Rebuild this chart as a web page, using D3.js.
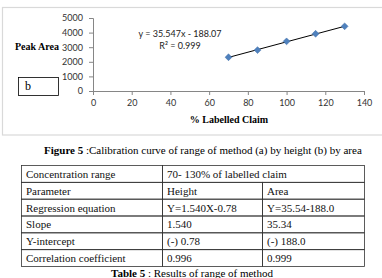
<!DOCTYPE html>
<html>
<head>
<meta charset="utf-8">
<script src="https://cdn.jsdelivr.net/npm/d3@7"></script>
<style>
  body { margin: 0; background: #fff; }
  svg { display: block; }
</style>
</head>
<body>
<svg id="chart" width="382" height="278"></svg>
<script>
// data
var claim = [70, 85, 100, 115, 130];
var peakArea = [2310, 2800, 3400, 3920, 4430];
var slope = 35.547, intercept = -188.07;
var eqText = "y = 35.547x - 188.07";
var r2Text = "R² = 0.999";
var xTicks = [0, 20, 40, 60, 80, 100, 120, 140];
var yTicks = [0, 1000, 2000, 3000, 4000, 5000];

var tableRows = [
    ["Concentration range", "70- 130% of labelled claim"],
    ["Parameter", "Height", "Area"],
    ["Regression equation", "Y=1.540X-0.78", "Y=35.54-188.0"],
    ["Slope", "1.540", "35.34"],
    ["Y-intercept", "(-) 0.78", "(-) 188.0"],
    ["Correlation coefficient", "0.996", "0.999"]
];

var svg = d3.select("#chart");
var serif = "'Liberation Serif', 'Times New Roman', serif";
var sans = "Lato, 'Open Sans', sans-serif";

// chart frame
svg.append("rect")
    .attr("x", 2.5).attr("y", 7.5)
    .attr("width", 390).attr("height", 127.5)
    .attr("fill", "none")
    .attr("stroke", "#d9d9d9")
    .attr("stroke-width", 1.2);

var x = d3.scaleLinear().domain([0, 140]).range([93, 364]);
var y = d3.scaleLinear().domain([0, 5000]).range([91, 18]);

var xAxis = svg.append("g")
    .attr("transform", "translate(0," + y(0) + ")")
    .call(d3.axisBottom(x).tickValues(xTicks).tickSize(4).tickPadding(5));

var yAxis = svg.append("g")
    .attr("transform", "translate(" + x(0) + ",0)")
    .call(d3.axisLeft(y).tickValues(yTicks).tickFormat(d3.format("d")).tickSize(4).tickPadding(6));

[xAxis, yAxis].forEach(function(a) {
    a.select(".domain").attr("stroke", "#868686");
    a.selectAll(".tick line").attr("stroke", "#868686");
    a.selectAll(".tick text")
        .attr("fill", "#333")
        .style("font-family", sans)
        .style("font-size", "9px");
});

// trendline
svg.append("line")
    .attr("x1", x(claim[0]))
    .attr("y1", y(slope * claim[0] + intercept))
    .attr("x2", x(claim[claim.length - 1]))
    .attr("y2", y(slope * claim[claim.length - 1] + intercept))
    .attr("stroke", "#000")
    .attr("stroke-width", 1);

// markers
svg.selectAll("path.pt")
    .data(claim)
    .enter()
    .append("path")
    .attr("class", "pt")
    .attr("d", d3.symbol().type(d3.symbolDiamond2).size(30))
    .attr("transform", function(d, i) {
        return "translate(" + x(d) + "," + y(peakArea[i]) + ")";
    })
    .attr("fill", "#4f81bd")
    .attr("stroke", "#3c6ca8")
    .attr("stroke-width", 0.5);

// equation label
svg.append("text")
    .attr("x", 180).attr("y", 37)
    .attr("text-anchor", "middle")
    .style("font-family", sans).style("font-size", "9px")
    .attr("fill", "#222")
    .text(eqText);
svg.append("text")
    .attr("x", 180).attr("y", 49)
    .attr("text-anchor", "middle")
    .style("font-family", sans).style("font-size", "9px")
    .attr("fill", "#222")
    .text(r2Text);

// axis titles
svg.append("text")
    .attr("x", 37).attr("y", 50)
    .attr("text-anchor", "middle")
    .style("font-family", serif).style("font-size", "10px").style("font-weight", "bold")
    .text("Peak Area");
svg.append("text")
    .attr("x", 229).attr("y", 123)
    .attr("text-anchor", "middle")
    .style("font-family", serif).style("font-size", "10px").style("font-weight", "bold")
    .text("% Labelled Claim");

// "b" box
svg.append("rect")
    .attr("x", 18.5).attr("y", 77.5)
    .attr("width", 40).attr("height", 18)
    .attr("fill", "#fff")
    .attr("stroke", "#000")
    .attr("stroke-width", 0.8);
svg.append("text")
    .attr("x", 25).attr("y", 90)
    .style("font-family", serif).style("font-size", "12px")
    .text("b");

// figure caption
var cap = svg.append("text")
    .attr("x", 44).attr("y", 154)
    .style("font-family", serif).style("font-size", "11px");
cap.append("tspan").style("font-weight", "bold").text("Figure 5");
cap.append("tspan").text(" :Calibration curve of range of method (a) by height (b) by area");

// table
var colX = [21, 162, 262, 364];
var rowY = d3.scaleLinear().domain([0, tableRows.length]).range([165.5, 266.5]);

var rowsG = svg.selectAll("g.row")
    .data(tableRows)
    .enter()
    .append("g")
    .attr("class", "row");

rowsG.each(function(r, i) {
    var g = d3.select(this);
    var top = rowY(i), h = rowY(i + 1) - rowY(i);
    r.forEach(function(cell, j) {
        var x0 = colX[j];
        var x1 = (r.length === 2 && j === 1) ? colX[3] : colX[j + 1];
        g.append("rect")
            .attr("x", x0 + 0.5).attr("y", top)
            .attr("width", x1 - x0).attr("height", h)
            .attr("fill", "none")
            .attr("stroke", "#333")
            .attr("stroke-width", 0.8);
        g.append("text")
            .attr("x", x0 + 5).attr("y", top + h / 2 + 4)
            .style("font-family", serif).style("font-size", "11px")
            .attr("fill", "#111")
            .text(cell);
    });
});

var tcap = svg.append("text")
    .attr("x", 192).attr("y", 277)
    .attr("text-anchor", "middle")
    .style("font-family", serif).style("font-size", "11px");
tcap.append("tspan").style("font-weight", "bold").text("Table 5");
tcap.append("tspan").text(" : Results of range of method");
</script>
</body>
</html>
